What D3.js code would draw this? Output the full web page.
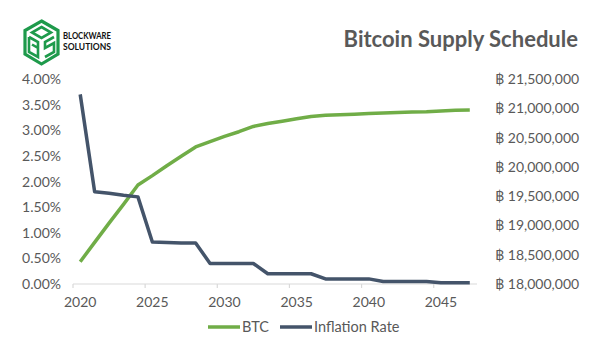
<!DOCTYPE html>
<html>
<head>
<meta charset="utf-8">
<script src="https://cdn.jsdelivr.net/npm/d3@7"></script>
<style>
  html, body { margin: 0; padding: 0; background: #fff; }
  svg { display: block; }
  text { font-family: Lato, "Open Sans", sans-serif; }
</style>
</head>
<body>
<div id="chart"></div>
<script>
const years = d3.range(2020, 2048);
const btcSupply = [18.38, 18.71, 19.04, 19.36, 19.69, 19.85, 20.02, 20.18, 20.34,
  20.43, 20.52, 20.60, 20.69, 20.74, 20.78, 20.82, 20.86, 20.88, 20.89, 20.90, 20.91,
  20.92, 20.93, 20.935, 20.94, 20.955, 20.965, 20.97].map(v => v * 1e6);
const inflationRate = [3.70, 1.80, 1.77, 1.73, 1.70, 0.82, 0.81, 0.80, 0.80,
  0.40, 0.40, 0.40, 0.40, 0.20, 0.20, 0.20, 0.20, 0.10, 0.10, 0.10, 0.10,
  0.05, 0.05, 0.05, 0.05, 0.025, 0.025, 0.025].map(v => v / 100);
const leftTicks = [0, 0.005, 0.01, 0.015, 0.02, 0.025, 0.03, 0.035, 0.04];
const rightTicks = [18000000, 18500000, 19000000, 19500000, 20000000, 20500000, 21000000, 21500000];
const xTickYears = [2020, 2025, 2030, 2035, 2040, 2045];
const seriesNames = ["BTC", "Inflation Rate"];
const colors = { btc: "#70ad47", infl: "#44546a" };

const W = 600, H = 357;
const svg = d3.select("#chart").append("svg").attr("width", W).attr("height", H);

const x = d3.scaleLinear().domain([2019.5, 2047.5]).range([73, 477]);
const yL = d3.scaleLinear().domain([0, 0.04]).range([284, 79]);
const yR = d3.scaleLinear().domain([18000000, 21500000]).range([284, 79]);

// Logo
const logo = svg.append("g").attr("transform", "translate(25,21)");
const g1 = "#1e9a4b";
logo.append("path").attr("d", "M16.5,0 L33,9.5 L33,33 L16.5,43 L0,33 L0,9.5 Z")
  .attr("fill", "none").attr("stroke", g1).attr("stroke-width", 3.2).attr("stroke-linejoin", "miter");
logo.append("path").attr("d", "M16.5,6 L26,11.5 L16.5,17 L7,11.5 Z")
  .attr("fill", "none").attr("stroke", g1).attr("stroke-width", 2.6);
logo.append("path").attr("d", "M4,16 L4,31 L13,36 L13,27 L7,23.5 M4,16 L13,21 L13,27")
  .attr("fill", "none").attr("stroke", g1).attr("stroke-width", 2.6);
logo.append("path").attr("d", "M29,16 L20,21 L20,27 L29,22 L29,31 L20,36")
  .attr("fill", "none").attr("stroke", g1).attr("stroke-width", 2.6);
["BLOCKWARE", "SOLUTIONS"].forEach((t, i) => {
  logo.append("text").attr("x", 38).attr("y", 17.5 + i * 11).text(t)
    .attr("font-family", "'DejaVu Sans Condensed', 'Liberation Sans Narrow', sans-serif")
    .attr("font-weight", "bold").attr("font-size", 9.5).attr("fill", "#111")
    .attr("textLength", 48).attr("lengthAdjust", "spacingAndGlyphs");
});

// Title
svg.append("text").attr("x", 578).attr("y", 47).attr("text-anchor", "end")
  .attr("font-size", 22).attr("font-weight", "bold").attr("fill", "#595959")
  .text("Bitcoin Supply Schedule");

// X axis line
svg.append("line").attr("x1", x(2019.5)).attr("x2", x(2047.5)).attr("y1", 284).attr("y2", 284)
  .attr("stroke", "#d9d9d9").attr("stroke-width", 1.2);
svg.selectAll(".xtick").data(xTickYears).enter().append("line")
  .attr("x1", d => x(d - 0.5)).attr("x2", d => x(d - 0.5)).attr("y1", 284).attr("y2", 288)
  .attr("stroke", "#d9d9d9").attr("stroke-width", 1.2);
svg.selectAll(".xlab").data(xTickYears).enter().append("text")
  .attr("x", d => x(d)).attr("y", 307).attr("text-anchor", "middle")
  .attr("font-size", 14).attr("fill", "#595959").text(d => d);

// Left axis labels
svg.selectAll(".yl").data(leftTicks).enter().append("text")
  .attr("x", 61).attr("y", d => yL(d) + 5).attr("text-anchor", "end")
  .attr("font-size", 14).attr("fill", "#595959")
  .text(d => d3.format(".2%")(d));

// Right axis labels
svg.selectAll(".yr").data(rightTicks).enter().append("text")
  .attr("x", 495).attr("y", d => yR(d) + 5).attr("text-anchor", "start")
  .attr("font-size", 14).attr("fill", "#595959")
  .text(d => "\u0E3F " + d3.format(",")(d));

// Lines
const lineB = d3.line().x((d, i) => x(years[i])).y(d => yR(d));
const lineI = d3.line().x((d, i) => x(years[i])).y(d => yL(d));
svg.append("path").datum(btcSupply).attr("d", lineB).attr("fill", "none")
  .attr("stroke", colors.btc).attr("stroke-width", 3.5).attr("stroke-linejoin", "round");
svg.append("path").datum(inflationRate).attr("d", lineI).attr("fill", "none")
  .attr("stroke", colors.infl).attr("stroke-width", 3.5).attr("stroke-linejoin", "round");

// Legend
const leg = [{ name: seriesNames[0], c: colors.btc, x0: 208 }, { name: seriesNames[1], c: colors.infl, x0: 280 }];
leg.forEach(l => {
  svg.append("line").attr("x1", l.x0).attr("x2", l.x0 + 32).attr("y1", 327).attr("y2", 327)
    .attr("stroke", l.c).attr("stroke-width", 3.5);
  svg.append("text").attr("x", l.x0 + 34).attr("y", 332).attr("font-size", 14.5)
    .attr("fill", "#595959").text(l.name);
});
</script>
</body>
</html>
